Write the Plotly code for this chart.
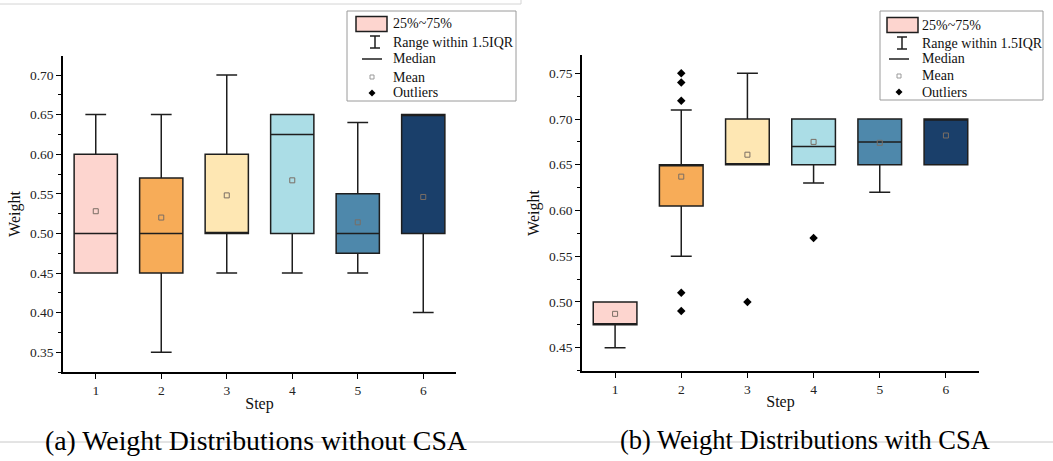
import plotly.graph_objects as go

# ---------------- data ----------------
steps = [1, 2, 3, 4, 5, 6]
step_colors = ["#FDD5CF", "#F7AC58", "#FEE7B3", "#ABDDE6", "#4E88AB", "#1A3F6A"]

# (a) without CSA
a_q1 = [0.45, 0.45, 0.50, 0.50, 0.475, 0.50]
a_median = [0.50, 0.50, 0.50, 0.625, 0.50, 0.65]
a_q3 = [0.60, 0.57, 0.60, 0.65, 0.55, 0.65]
a_lower = [0.45, 0.35, 0.45, 0.45, 0.45, 0.40]
a_upper = [0.65, 0.65, 0.70, 0.65, 0.64, 0.65]
a_mean = [0.528, 0.520, 0.548, 0.567, 0.514, 0.546]

# (b) with CSA
b_q1 = [0.475, 0.605, 0.65, 0.65, 0.65, 0.65]
b_median = [0.475, 0.65, 0.65, 0.67, 0.675, 0.70]
b_q3 = [0.50, 0.65, 0.70, 0.70, 0.70, 0.70]
b_lower = [0.45, 0.55, 0.65, 0.63, 0.62, 0.65]
b_upper = [0.50, 0.71, 0.75, 0.70, 0.70, 0.70]
b_mean = [0.487, 0.637, 0.661, 0.675, 0.674, 0.682]
b_outlier_x = [2, 2, 2, 2, 2, 3, 4]
b_outlier_y = [0.75, 0.74, 0.72, 0.51, 0.49, 0.50, 0.57]

legend_labels = ["25%~75%", "Range within 1.5IQR", "Median", "Mean", "Outliers"]
captions = ["(a) Weight Distributions without CSA", "(b) Weight Distributions with CSA"]

W, H = 1053, 461
FONT = "Liberation Serif"
BOXLINE = "#1e1e1e"
MEANCOL = "#7a6e64"


def px(x):
    return x / W


def py(y):
    return 1 - y / H


fig = go.Figure()


def add_panel(xa, ya, q1, med, q3, lo, hi, mean, ox=None, oy=None):
    for i, s in enumerate(steps):
        fig.add_trace(go.Box(
            x=[s], q1=[q1[i]], median=[med[i]], q3=[q3[i]],
            lowerfence=[lo[i]], upperfence=[hi[i]],
            fillcolor=step_colors[i], line=dict(color=BOXLINE, width=1.5),
            width=0.66, whiskerwidth=0.48, boxpoints=False,
            xaxis=xa, yaxis=ya, showlegend=False, hoverinfo="skip"))
    fig.add_trace(go.Scatter(
        x=steps, y=mean, mode="markers", xaxis=xa, yaxis=ya, showlegend=False,
        marker=dict(symbol="square-open", size=5, color=MEANCOL, line=dict(width=1, color=MEANCOL))))
    if ox:
        fig.add_trace(go.Scatter(
            x=ox, y=oy, mode="markers", xaxis=xa, yaxis=ya, showlegend=False,
            marker=dict(symbol="diamond", size=6.5, color="black")))


add_panel("x", "y", a_q1, a_median, a_q3, a_lower, a_upper, a_mean)
add_panel("x2", "y2", b_q1, b_median, b_q3, b_lower, b_upper, b_mean, b_outlier_x, b_outlier_y)

tickfont = dict(family=FONT, size=13.5, color="#222")
titlefont = dict(family=FONT, size=16, color="#111")
common_x = dict(range=[0.5, 6.5], tickvals=steps, showline=True, linecolor="black", linewidth=1.5,
                ticks="outside", ticklen=5, tickwidth=1.2, tickcolor="black", showgrid=False,
                zeroline=False, tickfont=tickfont, mirror=False)
common_y = dict(showline=True, linecolor="black", linewidth=1.5, ticks="outside", ticklen=5,
                tickwidth=1.2, tickcolor="black", showgrid=False, zeroline=False,
                tickfont=tickfont, tickformat=".2f", dtick=0.05,
                minor=dict(ticks="outside", ticklen=3, dtick=0.025, tickcolor="black", tickwidth=1))

fig.update_layout(
    width=W, height=H, margin=dict(l=0, r=0, t=0, b=0),
    paper_bgcolor="white", plot_bgcolor="white",
    xaxis=dict(common_x, domain=[px(63), px(456)], anchor="y",
               title=dict(text="Step", font=titlefont, standoff=1)),
    yaxis=dict(common_y, domain=[py(372), py(56)], range=[0.325, 0.724], anchor="x",
               tick0=0.35, title=dict(text="Weight", font=titlefont, standoff=5)),
    xaxis2=dict(common_x, domain=[px(582), px(979)], anchor="y2",
                title=dict(text="Step", font=titlefont, standoff=0)),
    yaxis2=dict(common_y, domain=[py(371), py(55)], range=[0.4245, 0.77], anchor="x2",
                tick0=0.45, title=dict(text="Weight", font=titlefont, standoff=5)),
)

shapes = []
annotations = []

# page artifacts (light grey rules)
shapes.append(dict(type="line", xref="paper", yref="paper", x0=px(0), x1=px(521), y0=py(4), y1=py(4),
                   line=dict(color="#d4d4d4", width=1)))
shapes.append(dict(type="line", xref="paper", yref="paper", x0=px(521), x1=px(521), y0=py(0), y1=py(4),
                   line=dict(color="#d4d4d4", width=1)))
shapes.append(dict(type="line", xref="paper", yref="paper", x0=0, x1=1, y0=py(442), y1=py(442),
                   line=dict(color="#c8c8c8", width=1)))


def add_legend(x0, x1, y0, y1, rect_x0, rect_x1, sym_cx, text_x, rows):
    shapes.append(dict(type="rect", xref="paper", yref="paper", x0=px(x0), x1=px(x1), y0=py(y1), y1=py(y0),
                       line=dict(color="#9a9a9a", width=1), fillcolor="white"))
    # box swatch
    shapes.append(dict(type="rect", xref="paper", yref="paper", x0=px(rect_x0), x1=px(rect_x1),
                       y0=py(rows[0] + 7.5), y1=py(rows[0] - 7.5),
                       line=dict(color=BOXLINE, width=1.5), fillcolor=step_colors[0]))
    # I-beam (whisker range)
    r = rows[1]
    shapes.append(dict(type="line", xref="paper", yref="paper", x0=px(sym_cx + 3), x1=px(sym_cx + 3),
                       y0=py(r - 6), y1=py(r + 6), line=dict(color=BOXLINE, width=1.5)))
    for yy in (r - 6, r + 6):
        shapes.append(dict(type="line", xref="paper", yref="paper", x0=px(sym_cx - 2), x1=px(sym_cx + 8),
                           y0=py(yy), y1=py(yy), line=dict(color=BOXLINE, width=1.5)))
    # median line
    r = rows[2]
    shapes.append(dict(type="line", xref="paper", yref="paper", x0=px(sym_cx - 10), x1=px(sym_cx + 10),
                       y0=py(r), y1=py(r), line=dict(color=BOXLINE, width=1.5)))
    # mean square
    r = rows[3]
    shapes.append(dict(type="rect", xref="paper", yref="paper", x0=px(sym_cx - 2), x1=px(sym_cx + 2),
                       y0=py(r + 2), y1=py(r - 2), line=dict(color="#9a9a9a", width=1)))
    # outlier diamond
    r = rows[4]
    shapes.append(dict(type="path", xref="paper", yref="paper",
                       path=f"M {px(sym_cx)} {py(r - 3.5)} L {px(sym_cx + 3.5)} {py(r)} L {px(sym_cx)} {py(r + 3.5)} L {px(sym_cx - 3.5)} {py(r)} Z",
                       fillcolor="black", line=dict(color="black", width=0)))
    for lab, rr in zip(legend_labels, rows):
        annotations.append(dict(xref="paper", yref="paper", x=px(text_x), y=py(rr), text=lab,
                                showarrow=False, xanchor="left", yanchor="middle",
                                font=dict(family=FONT, size=14, color="#111")))


add_legend(347, 516, 11, 101, 356, 387, 372, 391, [24, 42, 59, 77, 93])
add_legend(880, 1043, 11, 100, 887, 918, 899, 920, [25, 43, 59, 76, 92])

annotations.append(dict(xref="paper", yref="paper", x=px(256), y=py(440), text=captions[0], showarrow=False,
                        xanchor="center", yanchor="middle", font=dict(family=FONT, size=27.8, color="black")))
annotations.append(dict(xref="paper", yref="paper", x=px(805), y=py(440), text=captions[1], showarrow=False,
                        xanchor="center", yanchor="middle", font=dict(family=FONT, size=26.5, color="black")))

fig.update_layout(shapes=shapes, annotations=annotations)
fig.write_html("out.html", config={"displayModeBar": False},
               post_script="document.body.style.margin='0';document.body.style.overflow='hidden';")
